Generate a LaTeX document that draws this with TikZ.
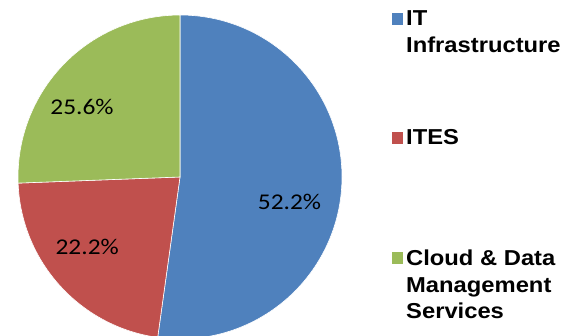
\documentclass[tikz,border=0pt]{standalone}
\usepackage{fontspec}
\newfontfamily\legendfont{Liberation Sans}[FakeStretch=1.1]
\newfontfamily\pctfont{Carlito}[FakeStretch=1.13]
\definecolor{itblue}{HTML}{4F81BD}
\definecolor{itesred}{HTML}{C0504D}
\definecolor{cloudgreen}{HTML}{9BBB59}
\begin{document}
\begin{tikzpicture}[x=1pt,y=1pt,
  slice/.style={draw=white,line width=0.6pt,line join=round},
  pct/.style={inner sep=0pt,anchor=base,font=\pctfont\fontsize{22.5}{27}\selectfont},
  keybox/.style={inner sep=0pt,minimum size=11.6pt},
  keytext/.style={inner sep=0pt,anchor=base west,
    font=\legendfont\bfseries\fontsize{21.6}{26.6}\selectfont}]
\useasboundingbox (0,0) rectangle (576,335);
\coordinate (c) at (180,158);
\begin{scope}
  \clip (0,0) rectangle (576,335);
  % IT Infrastructure 52.2%
  \fill[itblue,slice] (c) -- ++(90:162) arc[start angle=90,end angle=-97.92,radius=162] -- cycle;
  % ITES 22.2%
  \fill[itesred,slice] (c) -- ++(-97.92:162) arc[start angle=-97.92,end angle=-177.84,radius=162] -- cycle;
  % Cloud & Data Management Services 25.6%
  \fill[cloudgreen,slice] (c) -- ++(-177.84:162) arc[start angle=-177.84,end angle=-270,radius=162] -- cycle;
\end{scope}
% slice values
\node[pct] (pIT) at (289.5,125.7) {52.2\%};
\node[pct] (pITES) at (87.2,80.7) {22.2\%};
\node[pct] (pCloud) at (82,220.5) {25.6\%};
% legend
\node[keybox,fill=itblue] (kIT) at (397.5,315.8) {};
\node[keybox,fill=itesred] (kITES) at (397.5,196.8) {};
\node[keybox,fill=cloudgreen] (kCloud) at (397.5,76.8) {};
\node[keytext] (tIT) at (406,309) {\begin{tabular}[t]{@{}l@{}}IT\\Infrastructure\end{tabular}};
\node[keytext] (tITES) at (406,190) {ITES};
\node[keytext] (tCloud) at (406,69.3) {\begin{tabular}[t]{@{}l@{}}Cloud \& Data\\Management\\Services\end{tabular}};
\end{tikzpicture}
\end{document}
